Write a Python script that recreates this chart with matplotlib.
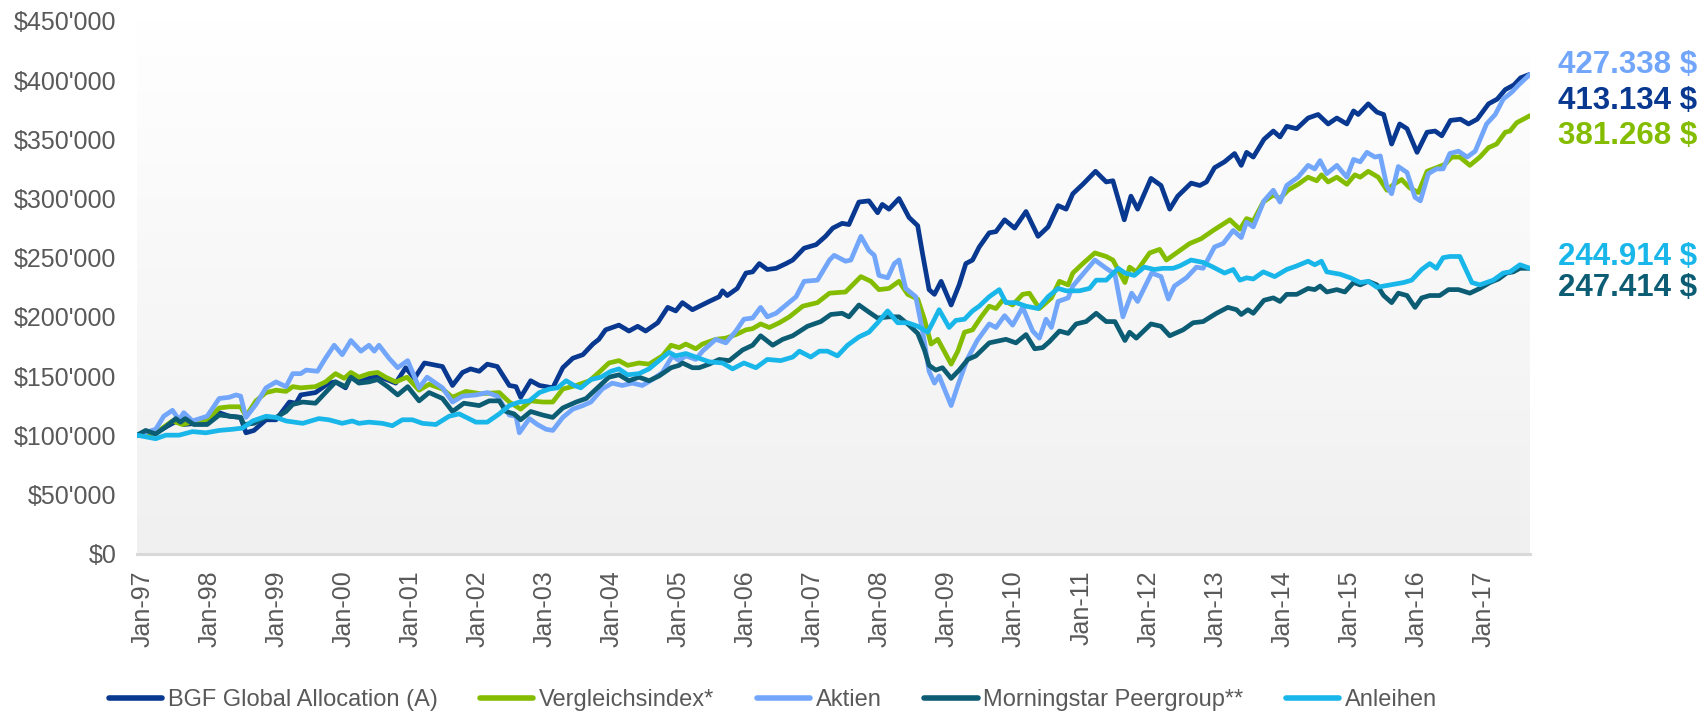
import numpy as np
import matplotlib
matplotlib.use("Agg")
import matplotlib.pyplot as plt
from matplotlib.colors import LinearSegmentedColormap
from matplotlib.ticker import FuncFormatter

# ---------------- data (values in $ thousands, x = position in years) ----------------
bgf_t = [1997.0, 1997.28, 1997.53, 1997.63, 1997.70, 1997.88, 1998.05, 1998.23, 1998.38, 1998.55,
         1998.63, 1998.75, 1998.93, 1999.08, 1999.28, 1999.38, 1999.45, 1999.67, 1999.87, 1999.97,
         2000.12, 2000.20, 2000.32, 2000.47, 2000.60, 2000.87, 2001.02, 2001.15, 2001.30, 2001.57,
         2001.72, 2001.87, 2001.99, 2002.12, 2002.24, 2002.39, 2002.57, 2002.67, 2002.74, 2002.89,
         2003.02, 2003.22, 2003.37, 2003.52, 2003.67, 2003.82, 2003.91, 2004.01, 2004.21, 2004.36,
         2004.49, 2004.61, 2004.79, 2004.94, 2005.06, 2005.16, 2005.31, 2005.56, 2005.71, 2005.76,
         2005.83, 2005.98, 2006.11, 2006.21, 2006.31, 2006.43, 2006.56, 2006.71, 2006.81, 2006.98,
         2007.16, 2007.30, 2007.41, 2007.55, 2007.65, 2007.80, 2007.95, 2008.08, 2008.15, 2008.25,
         2008.40, 2008.55, 2008.68, 2008.75, 2008.85, 2008.93, 2009.03, 2009.18, 2009.30, 2009.40,
         2009.50, 2009.60, 2009.75, 2009.85, 2009.98, 2010.13, 2010.30, 2010.48, 2010.63, 2010.78,
         2010.90, 2011.00, 2011.15, 2011.34, 2011.50, 2011.60, 2011.77, 2011.87, 2011.97, 2012.17,
         2012.32, 2012.45, 2012.57, 2012.77, 2012.90, 2013.00, 2013.12, 2013.27, 2013.42, 2013.52,
         2013.60, 2013.70, 2013.86, 2014.00, 2014.10, 2014.20, 2014.35, 2014.52, 2014.67, 2014.82,
         2014.95, 2015.10, 2015.20, 2015.27, 2015.42, 2015.55, 2015.65, 2015.77, 2015.89, 2016.00,
         2016.15, 2016.30, 2016.42, 2016.52, 2016.65, 2016.80, 2016.92, 2017.05, 2017.22, 2017.35,
         2017.47, 2017.60, 2017.70, 2017.84]
bgf_v = [100, 102, 110, 113, 109, 110, 110, 119, 116, 115,
         102, 104, 113, 113, 128, 127, 134, 136, 144, 145,
         140, 150, 145, 148, 150, 144, 157, 148, 161, 158,
         142, 153, 156, 154, 160, 158, 142, 141, 132, 146,
         142, 140, 157, 165, 168, 177, 181, 189, 193, 188,
         192, 188, 195, 208, 205, 212, 206, 213, 217, 222,
         218, 224, 237, 238, 245, 240, 241, 245, 248, 258,
         261, 268, 275, 279, 278, 297, 298, 288, 295, 291,
         300, 284, 277, 254, 223, 219, 230, 210, 227, 245,
         248, 259, 271, 272, 282, 275, 289, 268, 276, 294,
         291, 304, 312, 323, 314, 315, 282, 302, 291, 317,
         311, 291, 302, 313, 311, 314, 326, 331, 338, 328,
         339, 335, 350, 357, 352, 361, 359, 368, 371, 363,
         368, 363, 374, 371, 380, 373, 371, 346, 363, 359,
         339, 356, 357, 353, 366, 367, 363, 367, 380, 384,
         392, 396, 402, 405]

vgl_t = [1997.0, 1997.28, 1997.53, 1997.68, 1997.88, 1998.05, 1998.23, 1998.38, 1998.55, 1998.63,
         1998.78, 1998.93, 1999.08, 1999.23, 1999.33, 1999.45, 1999.67, 1999.82, 1999.97, 2000.10,
         2000.20, 2000.32, 2000.47, 2000.60, 2000.72, 2000.87, 2001.04, 2001.22, 2001.37, 2001.57,
         2001.72, 2001.92, 2002.14, 2002.42, 2002.57, 2002.74, 2002.89, 2003.07, 2003.22, 2003.37,
         2003.57, 2003.77, 2003.91, 2004.06, 2004.21, 2004.34, 2004.51, 2004.66, 2004.86, 2004.99,
         2005.11, 2005.21, 2005.36, 2005.46, 2005.66, 2005.81, 2005.96, 2006.11, 2006.21, 2006.33,
         2006.46, 2006.61, 2006.76, 2006.96, 2007.18, 2007.36, 2007.60, 2007.83, 2007.98, 2008.10,
         2008.25, 2008.40, 2008.53, 2008.68, 2008.78, 2008.88, 2008.98, 2009.18, 2009.28, 2009.38,
         2009.50, 2009.63, 2009.75, 2009.85, 2009.95, 2010.10, 2010.25, 2010.35, 2010.50, 2010.68,
         2010.80, 2010.93, 2011.00, 2011.15, 2011.33, 2011.50, 2011.60, 2011.78, 2011.85, 2011.95,
         2012.15, 2012.30, 2012.40, 2012.50, 2012.75, 2012.92, 2013.10, 2013.35, 2013.50, 2013.60,
         2013.70, 2013.85, 2014.00, 2014.10, 2014.22, 2014.37, 2014.52, 2014.65, 2014.72, 2014.82,
         2014.95, 2015.10, 2015.22, 2015.30, 2015.42, 2015.57, 2015.70, 2015.80, 2015.92, 2016.04,
         2016.17, 2016.30, 2016.44, 2016.57, 2016.67, 2016.79, 2016.94, 2017.09, 2017.22, 2017.34,
         2017.47, 2017.54, 2017.64, 2017.84]
vgl_v = [100, 102, 112, 109, 112, 113, 123, 124, 124, 116,
         129, 136, 138, 137, 141, 140, 141, 145, 152, 148,
         153, 149, 152, 153, 149, 145, 149, 138, 143, 139,
         132, 137, 135, 136, 128, 122, 129, 128, 128, 139,
         142, 146, 153, 161, 163, 159, 161, 160, 167, 176,
         174, 177, 173, 177, 181, 182, 185, 189, 190, 194,
         191, 195, 200, 209, 212, 220, 221, 234, 230, 223,
         224, 230, 219, 215, 198, 177, 181, 160, 171, 187,
         189, 200, 209, 207, 214, 210, 219, 220, 207, 216,
         230, 227, 237, 245, 254, 251, 248, 229, 242, 238,
         254, 257, 248, 252, 262, 266, 273, 282, 274, 283,
         281, 297, 303, 300, 307, 312, 318, 315, 320, 314,
         318, 312, 320, 318, 323, 318, 307, 312, 316, 309,
         305, 323, 326, 329, 335, 335, 328, 335, 343, 346,
         356, 357, 364, 370]

akt_t = [1997.0, 1997.28, 1997.40, 1997.53, 1997.63, 1997.70, 1997.83, 1998.05, 1998.23, 1998.38,
         1998.48, 1998.55, 1998.63, 1998.78, 1998.93, 1999.08, 1999.23, 1999.33, 1999.45, 1999.53,
         1999.70, 1999.82, 1999.95, 2000.07, 2000.20, 2000.35, 2000.47, 2000.55, 2000.62, 2000.77,
         2000.90, 2001.05, 2001.22, 2001.34, 2001.57, 2001.72, 2001.87, 2002.07, 2002.24, 2002.39,
         2002.57, 2002.67, 2002.72, 2002.87, 2002.99, 2003.12, 2003.22, 2003.37, 2003.52, 2003.67,
         2003.79, 2003.96, 2004.11, 2004.26, 2004.41, 2004.56, 2004.71, 2004.86, 2005.01, 2005.11,
         2005.21, 2005.36, 2005.46, 2005.66, 2005.81, 2005.96, 2006.08, 2006.21, 2006.33, 2006.43,
         2006.56, 2006.71, 2006.86, 2006.98, 2007.18, 2007.36, 2007.43, 2007.60, 2007.68, 2007.83,
         2007.95, 2008.03, 2008.10, 2008.23, 2008.33, 2008.40, 2008.50, 2008.65, 2008.75, 2008.85,
         2008.93, 2009.00, 2009.18, 2009.28, 2009.42, 2009.57, 2009.75, 2009.85, 2009.98, 2010.10,
         2010.25, 2010.40, 2010.50, 2010.60, 2010.68, 2010.78, 2010.93, 2011.00, 2011.15, 2011.33,
         2011.50, 2011.63, 2011.75, 2011.88, 2011.97, 2012.18, 2012.32, 2012.43, 2012.52, 2012.70,
         2012.85, 2012.95, 2013.12, 2013.25, 2013.40, 2013.52, 2013.60, 2013.70, 2013.86, 2014.00,
         2014.10, 2014.20, 2014.37, 2014.52, 2014.62, 2014.70, 2014.80, 2014.95, 2015.10, 2015.20,
         2015.30, 2015.40, 2015.52, 2015.60, 2015.70, 2015.77, 2015.87, 2016.00, 2016.12, 2016.20,
         2016.32, 2016.44, 2016.54, 2016.64, 2016.77, 2016.90, 2017.02, 2017.19, 2017.32, 2017.44,
         2017.57, 2017.67, 2017.84]
akt_v = [100, 105, 116, 121, 113, 119, 112, 116, 131, 132,
         134, 133, 115, 126, 140, 145, 141, 152, 152, 155,
         154, 165, 176, 168, 180, 171, 176, 171, 176, 165,
         157, 163, 140, 149, 140, 128, 133, 134, 136, 133,
         117, 116, 102, 114, 109, 105, 104, 115, 122, 125,
         128, 139, 144, 142, 144, 142, 147, 153, 167, 163,
         167, 164, 171, 181, 178, 188, 198, 199, 208, 200,
         203, 210, 217, 230, 231, 248, 252, 247, 248, 268,
         256, 252, 235, 233, 245, 248, 224, 217, 189, 154,
         144, 150, 125, 142, 164, 180, 194, 191, 201, 193,
         208, 188, 182, 198, 191, 213, 216, 226, 236, 248,
         241, 236, 200, 220, 213, 237, 234, 215, 226, 233,
         242, 241, 259, 262, 273, 267, 280, 276, 298, 307,
         297, 311, 318, 328, 325, 332, 321, 328, 318, 333,
         331, 339, 335, 336, 310, 304, 327, 322, 301, 298,
         321, 325, 325, 338, 340, 335, 340, 363, 371, 384,
         390, 396, 405]

mst_t = [1997.0, 1997.13, 1997.28, 1997.43, 1997.58, 1997.65, 1997.72, 1997.85, 1998.05, 1998.23,
         1998.40, 1998.55, 1998.60, 1998.75, 1998.93, 1999.08, 1999.23, 1999.33, 1999.48, 1999.67,
         1999.82, 1999.97, 2000.12, 2000.20, 2000.32, 2000.47, 2000.60, 2000.75, 2000.90, 2001.05,
         2001.22, 2001.37, 2001.57, 2001.72, 2001.89, 2002.12, 2002.27, 2002.42, 2002.52, 2002.64,
         2002.74, 2002.89, 2003.07, 2003.22, 2003.37, 2003.57, 2003.72, 2003.87, 2004.06, 2004.21,
         2004.36, 2004.51, 2004.66, 2004.81, 2004.99, 2005.11, 2005.16, 2005.31, 2005.41, 2005.56,
         2005.71, 2005.86, 2006.06, 2006.21, 2006.33, 2006.51, 2006.66, 2006.81, 2007.03, 2007.23,
         2007.38, 2007.55, 2007.65, 2007.80, 2007.95, 2008.08, 2008.25, 2008.40, 2008.55, 2008.68,
         2008.78, 2008.85, 2008.95, 2009.05, 2009.18, 2009.30, 2009.43, 2009.55, 2009.75, 2010.00,
         2010.15, 2010.30, 2010.43, 2010.55, 2010.65, 2010.80, 2010.93, 2011.05, 2011.20, 2011.35,
         2011.50, 2011.63, 2011.78, 2011.85, 2011.95, 2012.17, 2012.32, 2012.45, 2012.65, 2012.80,
         2012.95, 2013.15, 2013.32, 2013.45, 2013.52, 2013.62, 2013.70, 2013.86, 2014.00, 2014.10,
         2014.20, 2014.35, 2014.52, 2014.62, 2014.70, 2014.80, 2014.95, 2015.07, 2015.20, 2015.30,
         2015.42, 2015.55, 2015.65, 2015.77, 2015.87, 2016.00, 2016.12, 2016.22, 2016.34, 2016.49,
         2016.62, 2016.77, 2016.94, 2017.09, 2017.24, 2017.37, 2017.49, 2017.59, 2017.69, 2017.84]
mst_v = [100, 104, 101, 107, 114, 111, 114, 109, 109, 117,
         116, 115, 109, 110, 115, 115, 120, 126, 128, 127,
         136, 145, 141, 149, 144, 145, 147, 141, 134, 141,
         129, 136, 131, 120, 127, 125, 129, 129, 120, 118,
         113, 120, 117, 115, 123, 128, 131, 139, 149, 151,
         146, 149, 146, 150, 157, 159, 161, 157, 157, 160,
         164, 163, 172, 176, 184, 176, 181, 184, 192, 196,
         202, 203, 200, 210, 204, 199, 200, 200, 193, 186,
         172, 159, 155, 157, 148, 155, 164, 167, 178, 181,
         178, 185, 173, 174, 179, 188, 186, 194, 196, 203,
         196, 196, 180, 187, 182, 194, 192, 184, 189, 195,
         196, 203, 208, 206, 202, 206, 203, 214, 216, 213,
         219, 219, 224, 223, 226, 221, 223, 221, 229, 227,
         230, 227, 218, 212, 220, 218, 208, 216, 218, 218,
         223, 223, 220, 224, 229, 232, 237, 238, 241, 241]

anl_t = [1997.0, 1997.28, 1997.43, 1997.63, 1997.83, 1998.03, 1998.23, 1998.43, 1998.58, 1998.73,
         1998.93, 1999.08, 1999.23, 1999.48, 1999.72, 1999.87, 2000.07, 2000.22, 2000.32, 2000.47,
         2000.67, 2000.82, 2000.97, 2001.12, 2001.27, 2001.47, 2001.67, 2001.82, 2002.07, 2002.24,
         2002.42, 2002.57, 2002.72, 2002.87, 2003.02, 2003.17, 2003.29, 2003.42, 2003.54, 2003.64,
         2003.79, 2003.94, 2004.09, 2004.21, 2004.34, 2004.51, 2004.66, 2004.81, 2004.96, 2005.06,
         2005.21, 2005.36, 2005.56, 2005.76, 2005.91, 2006.08, 2006.26, 2006.43, 2006.63, 2006.81,
         2006.91, 2007.08, 2007.21, 2007.33, 2007.48, 2007.63, 2007.80, 2007.95, 2008.08, 2008.23,
         2008.38, 2008.53, 2008.68, 2008.83, 2008.93, 2009.00, 2009.15, 2009.25, 2009.38, 2009.50,
         2009.60, 2009.75, 2009.90, 2010.00, 2010.15, 2010.30, 2010.48, 2010.63, 2010.78, 2010.90,
         2011.10, 2011.25, 2011.35, 2011.50, 2011.68, 2011.78, 2011.92, 2012.07, 2012.22, 2012.35,
         2012.50, 2012.60, 2012.77, 2012.95, 2013.10, 2013.27, 2013.40, 2013.50, 2013.60, 2013.70,
         2013.85, 2014.02, 2014.20, 2014.35, 2014.52, 2014.62, 2014.72, 2014.80, 2015.00, 2015.15,
         2015.30, 2015.42, 2015.55, 2015.75, 2015.95, 2016.07, 2016.22, 2016.34, 2016.44, 2016.54,
         2016.64, 2016.79, 2016.97, 2017.09, 2017.29, 2017.44, 2017.54, 2017.69, 2017.84]
anl_v = [100, 97, 100, 100, 103, 102, 104, 105, 106, 112,
         116, 115, 112, 110, 114, 113, 110, 112, 110, 111,
         110, 108, 113, 113, 110, 109, 116, 118, 111, 111,
         118, 125, 128, 129, 136, 139, 140, 146, 142, 140,
         147, 149, 154, 156, 151, 152, 156, 163, 170, 167,
         169, 166, 162, 161, 156, 161, 157, 164, 163, 166,
         171, 166, 171, 171, 167, 176, 183, 187, 195, 205,
         195, 195, 192, 187, 198, 206, 191, 197, 198, 205,
         209, 217, 223, 212, 212, 209, 207, 217, 224, 222,
         222, 224, 231, 231, 241, 237, 235, 242, 240, 241,
         241, 243, 248, 246, 242, 237, 240, 231, 233, 232,
         238, 234, 240, 243, 247, 244, 247, 238, 236, 233,
         229, 230, 225, 227, 229, 231, 240, 245, 241, 250,
         251, 251, 229, 227, 231, 237, 238, 244, 241]

series_names = ["BGF Global Allocation (A)", "Vergleichsindex*", "Aktien",
                "Morningstar Peergroup**", "Anleihen"]
end_labels = ["427.338 $", "413.134 $", "381.268 $", "244.914 $", "247.414 $"]
year_ticks = list(range(1997, 2018))
tick_labels = ["Jan-%02d" % (y % 100) for y in year_ticks]
y_ticks = list(range(0, 450001, 50000))

# ---------------- styling ----------------
c_bgf = "#08388f"
c_vgl = "#84bd00"
c_akt = "#72a6fb"
c_mst = "#0c5d74"
c_anl = "#19b6ea"
txt_gray = "#595959"

plt.rcParams["font.family"] = ["Liberation Sans", "DejaVu Sans"]

fig = plt.figure(figsize=(17.08, 7.12), dpi=100)
ax_top, ax_bot = 21.0, 553.5
ax = fig.add_axes([137 / 1708, 1 - ax_bot / 712, (1530 - 137) / 1708, (ax_bot - ax_top) / 712])

x0, x1 = 1997.0, 2017.84
ax.set_xlim(x0, x1)
ax.set_ylim(0, 450000)

# gradient background: white at the top, light grey at the bottom
grad = np.linspace(0, 1, 256).reshape(-1, 1)
cmap = LinearSegmentedColormap.from_list("bg", ["#ffffff", "#f0f0f0"])
ax.imshow(grad, extent=[x0, x1, 0, 450000], aspect="auto", cmap=cmap,
          origin="upper", zorder=0, interpolation="bilinear")

lw = 3.4
series = [(bgf_t, bgf_v, c_bgf), (vgl_t, vgl_v, c_vgl), (akt_t, akt_v, c_akt),
          (mst_t, mst_v, c_mst), (anl_t, anl_v, c_anl)]
for (t, v, c), name in zip(series, series_names):
    ax.plot(t, np.array(v) * 1000, color=c, lw=lw, label=name,
            solid_joinstyle="round", solid_capstyle="round", zorder=2)

# axes cosmetics
for s in ["top", "right", "left"]:
    ax.spines[s].set_visible(False)
ax.spines["bottom"].set_color("#d9d9d9")
ax.spines["bottom"].set_linewidth(2.2)
ax.spines["bottom"].set_zorder(3)

tick_pos = [1997.082 + 1.003 * (y - 1997) for y in year_ticks]
ax.set_xticks(tick_pos)
ax.set_xticklabels(tick_labels, rotation=90, fontsize=18, color=txt_gray)
ax.set_yticks(y_ticks)
ax.yaxis.set_major_formatter(FuncFormatter(lambda v, p: "$" + format(int(v), ",").replace(",", "'")))
ax.tick_params(axis="y", length=0, pad=15, labelsize=18, labelcolor=txt_gray)
ax.tick_params(axis="x", length=0, pad=12)

# end labels
label_cols = [c_akt, c_bgf, c_vgl, c_anl, c_mst]
label_y = [65, 101, 136, 257, 288]
for txt, col, yp in zip(end_labels, label_cols, label_y):
    fig.text(1697 / 1708, 1 - yp / 712, txt, ha="right", va="center",
             fontsize=22.5, fontweight="bold", color=col)

leg = fig.legend(loc="center", bbox_to_anchor=(773 / 1708, 1 - 700 / 712), ncol=5,
                 frameon=False, fontsize=17, handlelength=2.25, handletextpad=0.25,
                 columnspacing=1.8, borderaxespad=0)
for t in leg.get_texts():
    t.set_color(txt_gray)
for h in leg.legend_handles:
    h.set_linewidth(4)

fig.savefig("out.png", dpi=100)
